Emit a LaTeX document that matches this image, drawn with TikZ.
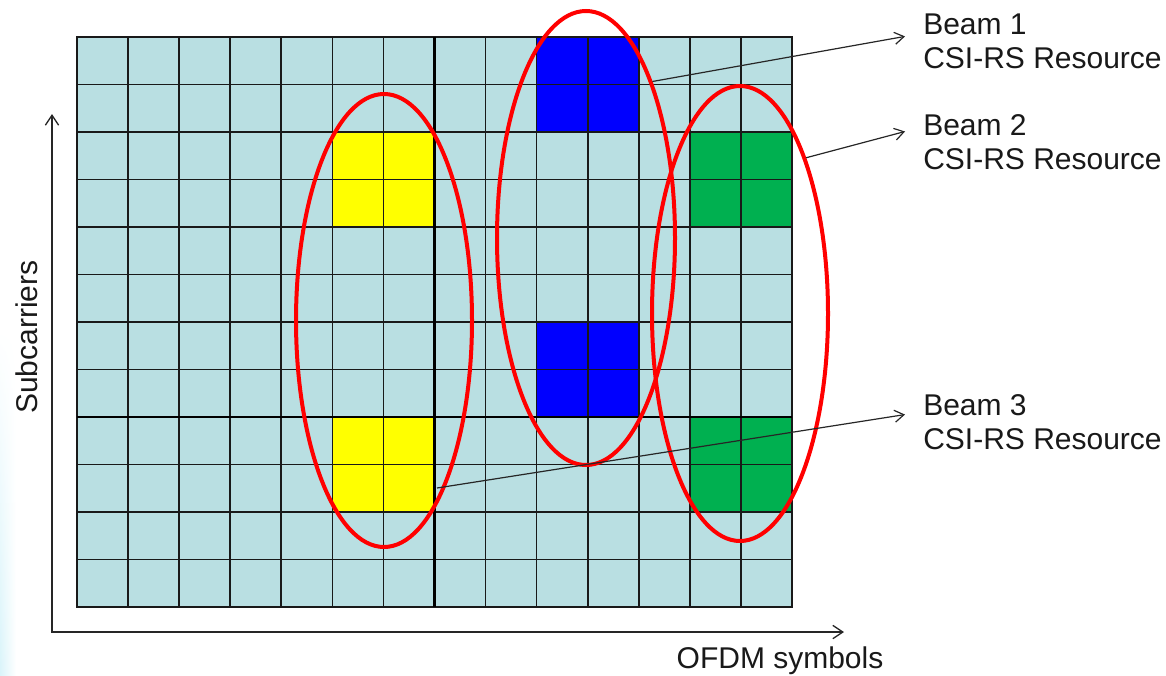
\documentclass[tikz,border=0pt]{standalone}
\usepackage{fontspec}
\setmainfont{Liberation Sans}
\usetikzlibrary{arrows.meta,shapes.geometric,calc,fadings}
\definecolor{cellblue}{RGB}{185,223,226}
\definecolor{rsblue}{RGB}{0,0,255}
\definecolor{rsgreen}{RGB}{0,176,80}
\definecolor{rsyellow}{RGB}{255,255,0}
\definecolor{beamred}{RGB}{255,0,0}
\definecolor{glow}{RGB}{218,244,250}
\begin{document}
\begin{tikzpicture}[x=0.75pt,y=-0.75pt,
  gridline/.style={black!90, line width=1.2pt},
  thickline/.style={black, line width=2.2pt},
  beam/.style={ellipse, draw=beamred, line width=3pt, inner sep=0pt},
  pointer/.style={black!85, line width=0.9pt, -{Straight Barb[length=7pt,width=9pt]}},
  axis/.style={black!85, line width=1pt, {Straight Barb[length=7.5pt,width=10pt]}-{Straight Barb[length=7.5pt,width=10pt]}},
  txt/.style={font=\fontsize{22.5pt}{25.5pt}\selectfont, text=black!90},
  lbl/.style={txt, align=left, anchor=north west, inner ysep=0pt, inner xsep=13.5pt}
]
\useasboundingbox (0,0) rectangle (1166,675);
% faint glow at the left edge
\shade[left color=glow, right color=white, path fading=north] (0,330) rectangle (16,675);
% resource grid background
\fill[cellblue] (77,37) rectangle (792,607);
% CSI-RS resources
\fill[rsblue]   (536.64,37)  rectangle (638.79,132);
\fill[rsblue]   (536.64,322) rectangle (638.79,417);
\fill[rsgreen]  (689.86,132) rectangle (792,227);
\fill[rsgreen]  (689.86,417) rectangle (792,512);
\fill[rsyellow] (332.36,132) rectangle (434.5,227);
\fill[rsyellow] (332.36,417) rectangle (434.5,512);
% grid lines
\foreach \i in {1,...,13} \draw[gridline] ({77+\i*715/14},37) -- ({77+\i*715/14},607);
\foreach \j in {1,...,11} \draw[gridline] (77,{37+\j*47.5}) -- (792,{37+\j*47.5});
\draw[gridline] (77,37) rectangle (792,607);
\draw[thickline] (434.5,37) -- (434.5,607);
\draw[thickline] (77,417) -- (792,417);
% beams
\node[beam, minimum width=132pt, minimum height=339.75pt] (e3) at (384,320.5) {};
\node[beam, minimum width=133.5pt, minimum height=340.5pt] (e1) at (586,238) {};
\node[beam, minimum width=132pt, minimum height=341.25pt] (e2) at (740,313.5) {};
% labels
\node[lbl] (l1) at (905,14) {Beam 1\\CSI-RS Resource};
\node[lbl] (l2) at (905,114) {Beam 2\\CSI-RS Resource};
\node[lbl] (l3) at (905,394) {Beam 3\\CSI-RS Resource};
\coordinate (s3) at (437,488);
\draw[pointer] (e1.67) -- ([yshift=4pt]l1.west);
\draw[pointer] (e2.67) -- ([yshift=7.8pt]l2.west);
\draw[pointer] (s3) -- ([yshift=5.5pt]l3.west);
% axes
\coordinate (origin) at (52,632);
\coordinate (ytip) at (52,114);
\coordinate (xtip) at (844,632);
\draw[axis] (ytip) -- (origin) -- (xtip);
\node[txt, anchor=base] (xl) at (780,668) {OFDM symbols};
\node[txt, rotate=90, anchor=base] (yl) at (37,337) {Subcarriers};
\end{tikzpicture}
\end{document}
